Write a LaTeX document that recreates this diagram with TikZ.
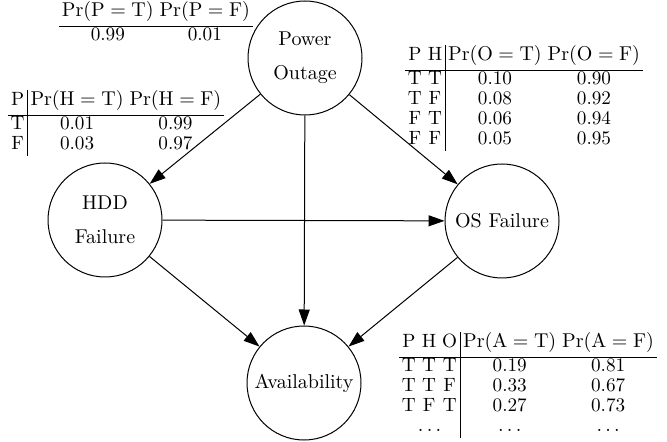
\documentclass[tikz,border=0pt]{standalone}
\usetikzlibrary{arrows.meta}
\newcommand{\hds}{\rule[-5pt]{0pt}{5pt}}
\begin{document}
\begin{tikzpicture}[x=0.5pt,y=-0.5pt,
  bnode/.style={draw, circle, minimum size=57pt, inner sep=0pt, line width=0.5pt, align=center},
  edge/.style={-{Triangle[length=8pt,width=5.5pt]}, line width=0.5pt},
  cpt/.style={inner sep=0pt, font=\fontsize{9.6}{10}\selectfont}]
\useasboundingbox (0,0) rectangle (667,442);
\setlength{\tabcolsep}{1.5pt}
% nodes
\node[bnode] (po) at (305,58) {Power\\[5pt]Outage};
\node[bnode] (hdd) at (105,220) {HDD\\[5pt]Failure};
\node[bnode] (os) at (502,221) {OS Failure};
\node[bnode] (av) at (304,383) {Availability};
% edges
\draw[edge] (po) -- (hdd);
\draw[edge] (po) -- (os);
\draw[edge] (po) -- (av);
\draw[edge] (hdd) -- (os);
\draw[edge] (hdd) -- (av);
\draw[edge] (os) -- (av);
% tables
\node[cpt] (tp) at (156,24) {\begin{tabular}{cc}
\hds$\Pr(\mathrm{P}=\mathrm{T})$ & $\Pr(\mathrm{P}=\mathrm{F})$\\\hline
0.99 & 0.01
\end{tabular}};
\node[cpt] (th) at (116,123) {\begin{tabular}{c|cc}
\hds P & $\Pr(\mathrm{H}=\mathrm{T})$ & $\Pr(\mathrm{H}=\mathrm{F})$\\\hline
T & 0.01 & 0.99\\
F & 0.03 & 0.97
\end{tabular}};
\node[cpt] (to) at (524,98) {\begin{tabular}{cc|cc}
\hds P & H & $\Pr(\mathrm{O}=\mathrm{T})$ & $\Pr(\mathrm{O}=\mathrm{F})$\\\hline
T & T & 0.10 & 0.90\\
T & F & 0.08 & 0.92\\
F & T & 0.06 & 0.94\\
F & F & 0.05 & 0.95
\end{tabular}};
\node[cpt] (ta) at (528,385) {\begin{tabular}{ccc|cc}
\hds P & H & O & $\Pr(\mathrm{A}=\mathrm{T})$ & $\Pr(\mathrm{A}=\mathrm{F})$\\\hline
T & T & T & 0.19 & 0.81\\
T & T & F & 0.33 & 0.67\\
T & F & T & 0.27 & 0.73\\
\multicolumn{3}{c|}{$\ldots$} & $\ldots$ & $\ldots$
\end{tabular}};
\end{tikzpicture}
\end{document}
